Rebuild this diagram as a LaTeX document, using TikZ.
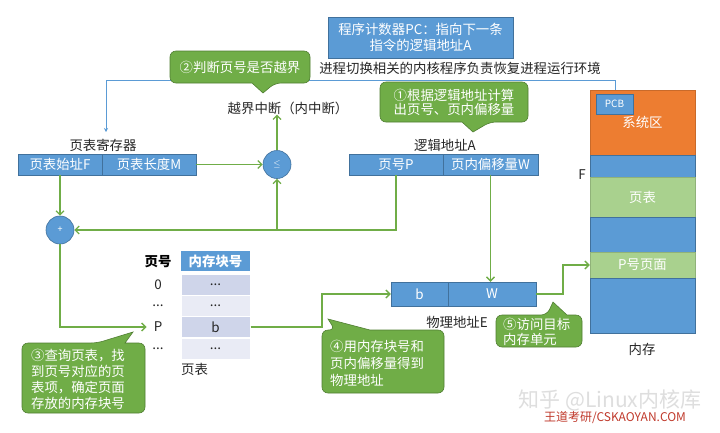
\documentclass[tikz,border=0pt]{standalone}
\usepackage{fontspec}
\setmainfont{Noto Sans CJK SC}
\usetikzlibrary{arrows.meta}
\definecolor{oblue}{HTML}{5B9BD5}
\definecolor{oblueD}{HTML}{41719C}
\definecolor{ogreen}{HTML}{70AD47}
\definecolor{ogreenD}{HTML}{507E32}
\definecolor{lgreen}{HTML}{A9D18E}
\definecolor{oorange}{HTML}{ED7D31}
\definecolor{rowA}{HTML}{CFD5EA}
\definecolor{rowB}{HTML}{E9EBF5}
\definecolor{txt}{HTML}{262626}
\definecolor{wmred}{HTML}{C0392B}
\begin{document}
\begin{tikzpicture}[x=1pt,y=-1pt,
  every node/.style={font=\fontsize{13.4}{15}\selectfont, text=txt, inner sep=0pt},
  bbox/.style={fill=oblue, draw=oblueD, line width=0.4pt, text=white, minimum height=21pt},
  memb/.style={fill=oblue, draw=oblueD, line width=0.4pt, text=white, minimum width=105pt},
  memg/.style={fill=lgreen, draw=lgreen!85!black, line width=0.4pt, text=white, minimum width=105pt},
  cnode/.style={circle, fill=oblue, draw=oblueD, line width=0.6pt, minimum size=28pt, text=white, font=\fontsize{9}{10}\selectfont},
  rowa/.style={fill=rowA, draw=white, line width=1pt, minimum width=69pt, minimum height=21pt},
  rowb/.style={fill=rowB, draw=white, line width=1pt, minimum width=69pt, minimum height=21pt},
  garrow/.style={draw=ogreen, line width=1.3pt, -{Straight Barb[length=4pt,width=8pt]}},
  bline/.style={draw=oblue, line width=0.8pt, -{Stealth[length=4pt,width=4pt]}},
  callbox/.style={fill=ogreen, draw=ogreenD, line width=0.6pt},
  ctext/.style={text=white, align=left}
]
\path[fill=white] (0,0) rectangle (720,432);
\useasboundingbox (0,0) rectangle (720,432);

% ---------- top texts ----------
\node[bbox, minimum width=185pt, minimum height=41pt, align=center,
      font=\fontsize{13.4}{16}\selectfont] (pc) at (420.5,37.5)
      {程序计数器PC：指向下一条\\指令的逻辑地址A};
\node (env) at (460,68) {进程切换相关的内核程序负责恢复进程运行环境};
\node (ovf) at (288,108) {越界中断（内中断）};

% ---------- page table register ----------
\node (reglab) at (103,145) {页表寄存器};
\node[bbox, minimum width=84pt] (regF) at (60,164.5) {页表始址F};
\node[bbox, minimum width=94pt] (regM) at (149,164.5) {页表长度M};

\node[cnode] (le) at (277,164.5) {$\leq$};
\node[cnode] (plus) at (60,230) {+};

% ---------- logical address ----------
\node (lalab) at (445,145) {逻辑地址A};
\node[bbox, minimum width=94pt] (lp) at (396,164.5) {页号P};
\node[bbox, minimum width=95pt] (lw) at (490.5,164.5) {页内偏移量W};

% ---------- page table ----------
\node[font=\fontsize{13.4}{15}\selectfont\bfseries, text=black] (th) at (158,262) {页号};
\node[fill=oblue, minimum width=69pt, minimum height=20pt, text=white,
      font=\fontsize{13.4}{15}\selectfont\bfseries] (thb) at (215.5,261) {内存块号};
\node[rowa] (r0) at (215.5,284.5) {...};
\node[rowb] (r1) at (215.5,305.5) {...};
\node[rowa] (rP) at (215.5,327) {b};
\node[rowb] (r3) at (215.5,348.5) {...};
\node (t0) at (158,284.5) {0};
\node (t1) at (158,305.5) {...};
\node (tP) at (158,327) {P};
\node (t3) at (158,348.5) {...};
\node[anchor=west] (ptlab) at (181,369) {页表};

% ---------- physical address ----------
\node[bbox, minimum width=57pt, minimum height=24pt] (pb) at (419.5,294) {b};
\node[bbox, minimum width=88pt, minimum height=24pt] (pw) at (492,294) {W};
\node (palab) at (457,322) {物理地址E};

% ---------- memory ----------
\node[fill=oorange, draw=oorange!85!black, line width=0.4pt, minimum width=105pt,
      minimum height=65pt, text=white] (msys) at (642.5,122.5) {\raisebox{-4pt}{系统区}};
\node[memb, minimum height=22pt] (m1) at (642.5,166) {};
\node[memg, minimum height=40pt] (mpt) at (642.5,197) {页表};
\node[memb, minimum height=35pt] (m2) at (642.5,234.5) {};
\node[memg, minimum height=26pt] (mpp) at (642.5,265) {P号页面};
\node[memb, minimum height=55pt] (m3) at (642.5,305.5) {};
\node[fill=oblue, draw=oblueD, line width=0.6pt, minimum width=37pt, minimum height=20pt,
      text=white, font=\fontsize{10}{12}\selectfont] (pcb) at (614.5,104) {PCB};
\node (flab) at (582,175) {F};
\node (memlab) at (642,349) {内存};

% ---------- connectors ----------
\coordinate (b1) at (106,80);
\coordinate (b2) at (615,80);
\coordinate (b3) at (106,132);
\draw[bline] (msys.north -| b2) -- (b2) -- (b1) -- (b3);

\draw[garrow] (regM.east) -- (le.west);
\draw[garrow] (le.north) -- (le.north |- ovf.south);
\draw[garrow] (regF.south) -- (plus.north);
\draw[garrow] (lp.south) |- (plus.east);
\coordinate (j1) at (le.south |- plus.east);
\draw[garrow] (j1) -- (le.south);
\draw[garrow] (plus.south) |- ([xshift=-7pt]tP.west);
\coordinate (k1) at (322,327);
\draw[garrow] (rP.east) -- (k1) |- (pb.west);
\draw[garrow] (lw.south) -- (lw.south |- pw.north);
\coordinate (k2) at (563,294);
\draw[garrow] (pw.east) -- (k2) |- (mpp.west);

% ---------- callouts ----------
\filldraw[callbox, rounded corners=6pt] (240,51) -- (310,51) -- (310,83) -- (275,83)
  [sharp corners] -- (263,93) -- (252,83) [rounded corners=6pt] -- (170,83) -- (170,51) -- cycle;
\node[ctext] (c2) at (240,67) {②判断页号是否越界};

\filldraw[callbox, rounded corners=6pt] (454,82) -- (528,82) -- (528,122) -- (490,122)
  [sharp corners] -- (473,132) -- (462,122) [rounded corners=6pt] -- (380,122) -- (380,82) -- cycle;
\node[ctext, font=\fontsize{13.4}{14}\selectfont] (c1) at (454,102) {①根据逻辑地址计算\\出页号、页内偏移量};

\filldraw[callbox, rounded corners=6pt] (83,413) -- (22,413) -- (22,343) -- (97,343)
  [sharp corners] -- (133,332) -- (125,343) [rounded corners=6pt] -- (145,343) -- (145,413) -- cycle;
\node[ctext, font=\fontsize{13.4}{16}\selectfont] (c3) at (78,379) {③查询页表，找\\到页号对应的页\\表项，确定页面\\存放的内存块号};

\filldraw[callbox, rounded corners=6pt] (383,393) -- (322,393) -- (322,330) -- (335,330)
  [sharp corners] -- (328,319) -- (370,330) [rounded corners=6pt] -- (444,330) -- (444,393) -- cycle;
\node[ctext, anchor=west, font=\fontsize{13.4}{17}\selectfont] (c4) at (330,363) {④用内存块号和\\页内偏移量得到\\物理地址};

\filldraw[callbox, rounded corners=6pt] (539,347) -- (496,347) -- (496,315) -- (547,315)
  [sharp corners] -- (553,302) -- (567,315) [rounded corners=6pt] -- (582,315) -- (582,347) -- cycle;
\node[ctext, anchor=west, font=\fontsize{13.4}{15}\selectfont] (c5) at (503,332) {⑤访问目标\\内存单元};

% ---------- watermark ----------
\node[text=black!13, font=\fontsize{21}{22}\selectfont] (wm1) at (610,400) {知乎 @Linux内核库};
\node[text=wmred, font=\fontsize{12}{13}\selectfont] (wm2) at (615,418) {王道考研/CSKAOYAN.COM};
\end{tikzpicture}
\end{document}
